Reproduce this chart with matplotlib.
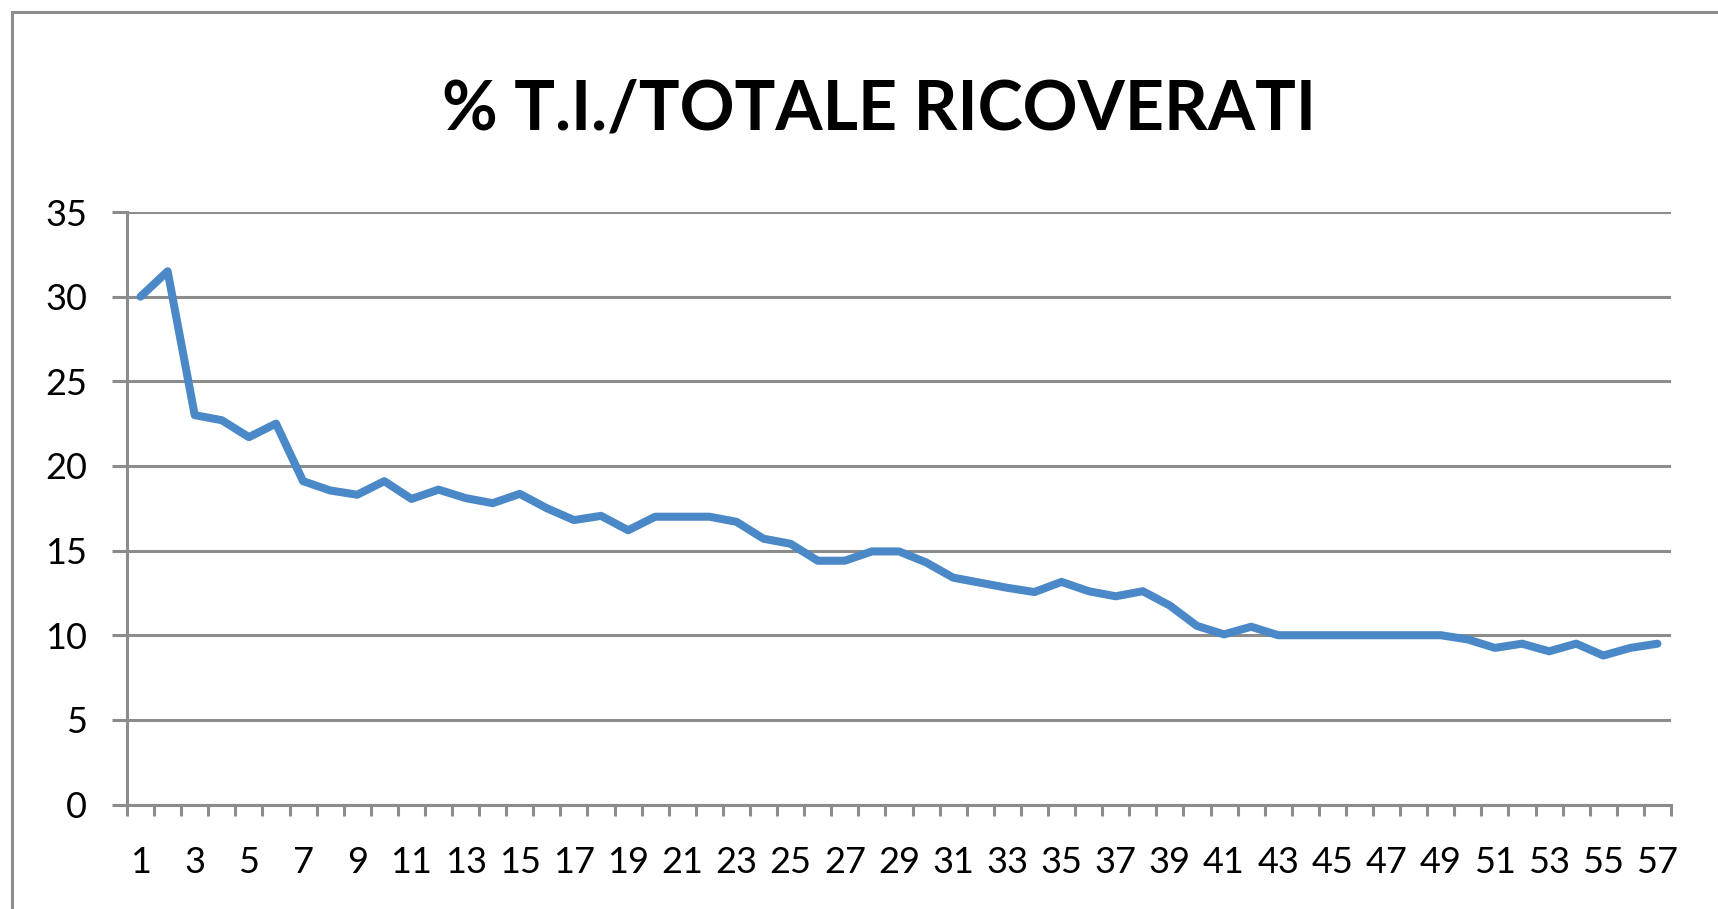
import matplotlib.pyplot as plt
from matplotlib.patches import Rectangle

# data
days = list(range(1, 58))
pct_ti = [
    30.0, 31.5, 23.0, 22.7, 21.7, 22.5, 19.1, 18.55, 18.3, 19.1,
    18.05, 18.6, 18.1, 17.8, 18.35, 17.5, 16.8, 17.05, 16.2, 17.0,
    17.0, 17.0, 16.7, 15.7, 15.4, 14.4, 14.4, 14.95, 14.95, 14.3,
    13.4, 13.1, 12.8, 12.55, 13.15, 12.6, 12.3, 12.6, 11.75, 10.55,
    10.05, 10.5, 10.0, 10.0, 10.0, 10.0, 10.0, 10.0, 10.0, 9.75,
    9.25, 9.5, 9.05, 9.5, 8.8, 9.25, 9.5,
]
y_ticks = [0, 5, 10, 15, 20, 25, 30, 35]
title = "% T.I./TOTALE RICOVERATI"

W, H = 1718, 909
grey = "#8c8c8c"
blue = "#4a88c7"

plt.rcParams['font.family'] = ['Lato', 'DejaVu Sans']

fig = plt.figure(figsize=(W / 100, H / 100), dpi=100)
fig.patch.set_facecolor("white")

# axes placement in pixels: x 127..1671, y(35)=212, y(0)=804.5
left, right = 127, 1671
top_px, bot_px = 212, 804.5
ax = fig.add_axes([left / W, 1 - bot_px / H, (right - left) / W, (bot_px - top_px) / H])

ax.plot(days, pct_ti, color=blue, lw=5.8, solid_joinstyle='round',
        solid_capstyle='round', zorder=3)

ax.set_xlim(0.5, 57.5)
ax.set_ylim(0, 35)

# y axis
ax.set_yticks(y_ticks)
ax.set_yticklabels([str(v) for v in y_ticks], fontsize=26)
ax.tick_params(axis='y', direction='out', length=10.8, width=2.2,
               color=grey, pad=18)
ax.yaxis.grid(True, color=grey, lw=2.2)
ax.set_axisbelow(True)

# x axis: labels on odd days, tick marks between categories
ax.set_xticks(days[::2])
ax.set_xticklabels([str(d) for d in days[::2]], fontsize=26)
ax.set_xticks([d - 0.5 for d in days] + [57.5], minor=True)
ax.tick_params(axis='x', which='major', length=0, pad=30)
ax.tick_params(axis='x', which='minor', direction='out', length=8,
               width=2.2, color=grey)

for s in ['top', 'right']:
    ax.spines[s].set_visible(False)
for s in ['left', 'bottom']:
    ax.spines[s].set_color(grey)
    ax.spines[s].set_linewidth(2.2)

fig.text(879 / W, 1 - 110 / H, title, ha='center', va='center',
         fontsize=49, fontweight='bold')

# chart-area border (only top/left visible in the crop)
fig.patches.append(Rectangle((12 / W, -0.5), 2.0, 1.5 - 12 / H,
                             transform=fig.transFigure, fill=False,
                             edgecolor=grey, lw=2.2))

fig.savefig("out.png", dpi=100)
